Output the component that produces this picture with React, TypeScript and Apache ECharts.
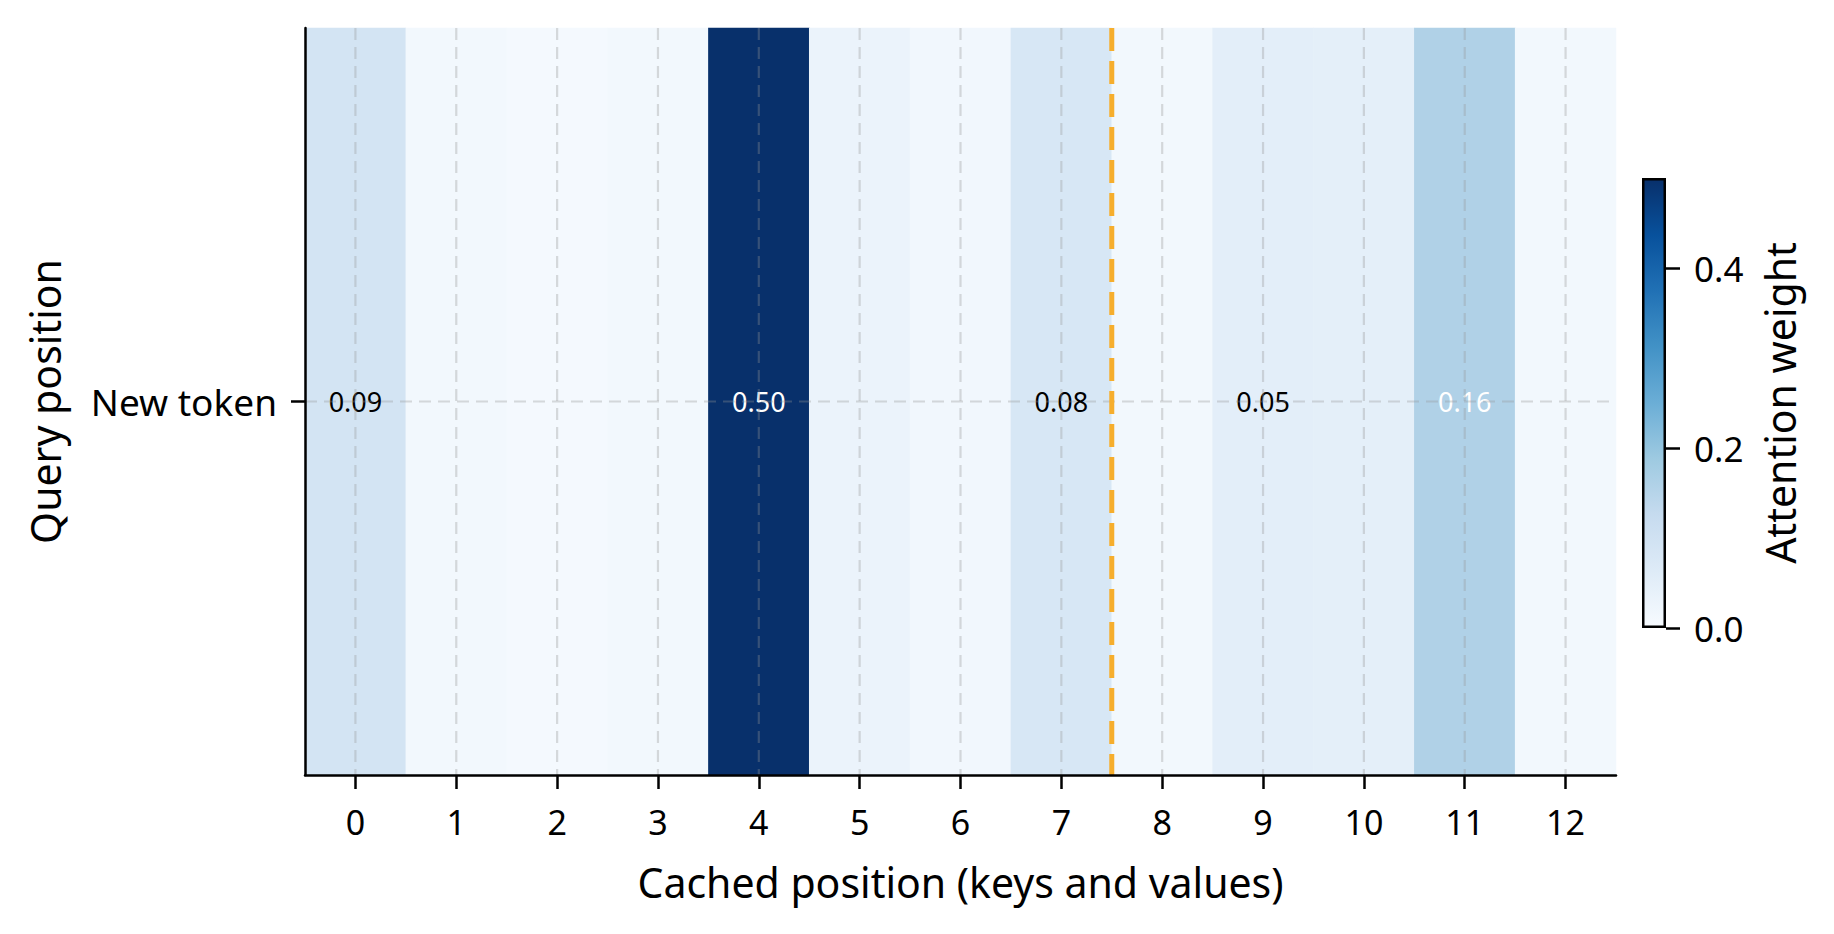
import React, { useEffect, useRef } from "react";
import * as echarts from "echarts";

const POSITIONS = ["0", "1", "2", "3", "4", "5", "6", "7", "8", "9", "10", "11", "12"];
const QUERIES = ["New token"];
const WEIGHTS = [0.09, 0.012, 0.008, 0.012, 0.5, 0.03, 0.014, 0.08, 0.012, 0.05, 0.047, 0.16, 0.012];
const BOUNDARY_AFTER = [7];
const COLORBAR_TICKS = [0, 0.2, 0.4];
const VMAX = 0.5;
const LABEL_MIN = 0.05;
const WHITE_TEXT_ABOVE = 0.15;
const BLUES = ["#f7fbff", "#deebf7", "#c6dbef", "#9ecae1", "#6baed6", "#4292c6", "#2171b5", "#08519c", "#08306b"];

const FONT = "'Noto Sans', 'DejaVu Sans', sans-serif";

export default function App() {
  const ref = useRef<HTMLDivElement>(null);
  useEffect(() => {
    if (!ref.current) return;
    const chart = echarts.init(ref.current, null, { renderer: "svg" });
    const heatData = WEIGHTS.map((v, i) => ({
      value: [i, 0, v],
      label: {
        show: v >= LABEL_MIN,
        color: v > WHITE_TEXT_ABOVE ? "#ffffff" : "#000000",
      },
    }));
    const gridLine = { stroke: "rgba(150,150,150,0.33)", lineWidth: 2.2, lineDash: [12, 7] };
    const option: any = {
      animation: false,
      backgroundColor: "#ffffff",
      textStyle: { fontFamily: FONT },
      grid: [
        { left: 305, top: 28, width: 1311, height: 747 },
        { left: 1642, top: 178, width: 24, height: 450 },
      ],
      xAxis: [
        {
          type: "category",
          gridIndex: 0,
          data: POSITIONS,
          z: 10,
          axisLine: { show: true, lineStyle: { color: "#000", width: 2.5 } },
          axisTick: { show: true, alignWithLabel: true, length: 14, lineStyle: { color: "#000", width: 2.5 } },
          axisLabel: { fontSize: 34, color: "#000", margin: 30, fontFamily: FONT },
          splitLine: { show: false },
          name: "Cached position (keys and values)",
          nameLocation: "middle",
          nameGap: 86,
          nameTextStyle: { fontSize: 41, color: "#000", fontFamily: FONT },
        },
        {
          type: "category",
          gridIndex: 1,
          data: ["cb"],
          show: false,
        },
      ],
      yAxis: [
        {
          type: "category",
          gridIndex: 0,
          data: QUERIES,
          z: 10,
          axisLine: { show: true, lineStyle: { color: "#000", width: 2.5 } },
          axisTick: { show: true, alignWithLabel: true, length: 14, lineStyle: { color: "#000", width: 2.5 } },
          axisLabel: { fontSize: 37, color: "#000", margin: 28, fontFamily: FONT },
          splitLine: { show: false },
          name: "Query position",
          nameLocation: "middle",
          nameGap: 240,
          nameTextStyle: { fontSize: 41, color: "#000", fontFamily: FONT },
        },
        {
          type: "value",
          gridIndex: 1,
          position: "right",
          min: 0,
          max: VMAX,
          axisLine: { show: false },
          axisTick: { show: true, length: 14, customValues: COLORBAR_TICKS, lineStyle: { color: "#000", width: 2.5 } },
          axisLabel: {
            fontSize: 35,
            color: "#000",
            margin: 28,
            fontFamily: FONT,
            customValues: COLORBAR_TICKS,
            formatter: (v: number) => v.toFixed(1),
          },
          splitLine: { show: false },
          name: "Attention weight",
          nameLocation: "middle",
          nameGap: 93,
          nameTextStyle: { fontSize: 41, color: "#000", fontFamily: FONT },
        },
      ],
      visualMap: {
        type: "continuous",
        show: false,
        min: 0,
        max: VMAX,
        dimension: 2,
        seriesIndex: 0,
        inRange: { color: BLUES },
      },
      series: [
        {
          type: "heatmap",
          xAxisIndex: 0,
          yAxisIndex: 0,
          data: heatData,
          z: 2,
          label: {
            fontSize: 27,
            fontFamily: FONT,
            formatter: (p: any) => Number(p.value[2]).toFixed(2),
          },
          emphasis: { disabled: true },
        },
        {
          type: "custom",
          xAxisIndex: 0,
          yAxisIndex: 0,
          z: 5,
          silent: true,
          data: POSITIONS.map((_, i) => [i, 0]),
          renderItem: (params: any, api: any) => {
            const p = api.coord([api.value(0), 0]);
            const cs = params.coordSys;
            return {
              type: "line",
              shape: { x1: p[0], y1: cs.y, x2: p[0], y2: cs.y + cs.height },
              style: gridLine,
            };
          },
        },
        {
          type: "custom",
          xAxisIndex: 0,
          yAxisIndex: 0,
          z: 5,
          silent: true,
          data: QUERIES.map((_, j) => [0, j]),
          renderItem: (params: any, api: any) => {
            const p = api.coord([0, api.value(1)]);
            const cs = params.coordSys;
            return {
              type: "line",
              shape: { x1: cs.x, y1: p[1], x2: cs.x + cs.width, y2: p[1] },
              style: gridLine,
            };
          },
        },
        {
          type: "custom",
          xAxisIndex: 0,
          yAxisIndex: 0,
          z: 6,
          silent: true,
          data: BOUNDARY_AFTER.map((b) => [b, 0]),
          renderItem: (params: any, api: any) => {
            const p = api.coord([api.value(0), 0]);
            const w = api.size([1, 0])[0];
            const cs = params.coordSys;
            const x = p[0] + w / 2;
            return {
              type: "line",
              shape: { x1: x, y1: cs.y, x2: x, y2: cs.y + cs.height },
              style: { stroke: "#f6ae2d", lineWidth: 5, lineDash: [23, 10] },
            };
          },
        },
        {
          type: "bar",
          xAxisIndex: 1,
          yAxisIndex: 1,
          data: [VMAX],
          barWidth: "100%",
          silent: true,
          itemStyle: {
            borderColor: "#000",
            borderWidth: 2.5,
            color: new echarts.graphic.LinearGradient(
              0,
              1,
              0,
              0,
              BLUES.map((c, i) => ({ offset: i / (BLUES.length - 1), color: c }))
            ),
          },
        },
      ],
    };
    chart.setOption(option);
    return () => chart.dispose();
  }, []);
  return (
    <div
      ref={ref}
      style={{ position: "fixed", left: 0, top: 0, width: 1834, height: 934, background: "#fff" }}
    />
  );
}
